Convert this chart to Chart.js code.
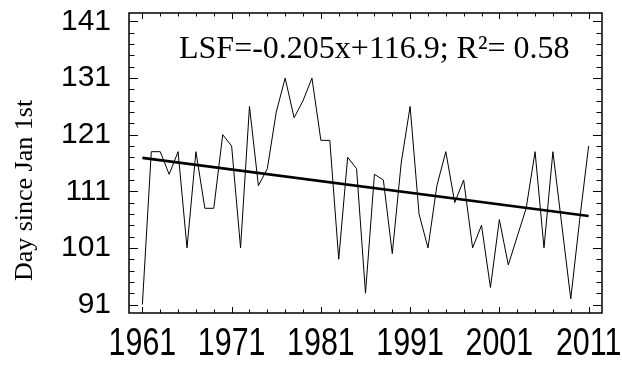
<!DOCTYPE html>
<html>
<head>
<meta charset="utf-8">
<script src="https://cdn.jsdelivr.net/npm/chart.js@4/dist/chart.umd.min.js"></script>
<style>
  html, body { margin: 0; padding: 0; background: #fff; }
  #wrap { width: 622px; height: 366px; }
</style>
</head>
<body>
<div id="wrap"><canvas id="c" width="622" height="366"></canvas></div>
<script>
// ---- data ----
const years = [1961,1962,1963,1964,1965,1966,1967,1968,1969,1970,
               1971,1972,1973,1974,1975,1976,1977,1978,1979,1980,
               1981,1982,1983,1984,1985,1986,1987,1988,1989,1990,
               1991,1992,1993,1994,1995,1996,1997,1998,1999,2000,
               2001,2002,2003,2004,2005,2006,2007,2008,2009,2010,2011];
const dayValues = [91,118,118,114,118,101,118,108,108,121,
                   119,101,126,112,115,125,131,124,127,131,
                   120,120,99,117,115,93,114,113,100,116,
                   126,107,101,112,118,109,113,101,105,94,
                   106,98,103,108,118,101,118,105,92,106,119];
const trendYears = [1961, 2011];
const trendValues = [116.9, 106.65];
const xLabelYears = [1961, 1971, 1981, 1991, 2001, 2011];
const yLabelValues = [91, 101, 111, 121, 131, 141];
const annotationText = 'LSF=-0.205x+116.9; R\u00B2= 0.58';
const yTitleText = 'Day since Jan 1st';

// ---- helpers ----
function stepTicks(from, to, step) {
  const out = [];
  for (let v = from; v <= to + 1e-9; v += step) out.push({ value: v });
  return out;
}

const framePlugin = {
  id: 'frame',
  afterDraw(chart) {
    const { ctx, chartArea: a, scales: { x, y } } = chart;
    ctx.save();
    ctx.strokeStyle = '#000';
    ctx.lineWidth = 1;
    ctx.beginPath();
    x.ticks.forEach(t => {
      const px = Math.round(x.getPixelForValue(t.value)) + 0.5;
      const len = xLabelYears.includes(t.value) ? 6 : 3.5;
      ctx.moveTo(px, a.bottom); ctx.lineTo(px, a.bottom - len);
      ctx.moveTo(px, a.top); ctx.lineTo(px, a.top + len);
    });
    y.ticks.forEach(t => {
      const py = Math.round(y.getPixelForValue(t.value)) + 0.5;
      const len = yLabelValues.includes(t.value) ? 9 : 5.5;
      ctx.moveTo(a.left, py); ctx.lineTo(a.left + len, py);
      ctx.moveTo(a.right, py); ctx.lineTo(a.right - len, py);
    });
    ctx.stroke();
    ctx.lineWidth = 1.5;
    ctx.strokeRect(a.left, a.top, a.right - a.left, a.bottom - a.top);

    ctx.fillStyle = '#000';
    // x tick labels (condensed sans, like the reference)
    ctx.font = '38px "Liberation Sans", Arial, sans-serif';
    ctx.textAlign = 'center';
    ctx.textBaseline = 'middle';
    xLabelYears.forEach(yr => {
      ctx.save();
      ctx.translate(x.getPixelForValue(yr), a.bottom + 32);
      ctx.scale(0.8, 1);
      ctx.fillText(String(yr), 0, 0);
      ctx.restore();
    });

    ctx.font = '32px "Liberation Serif", "Times New Roman", serif';
    ctx.textAlign = 'left';
    ctx.textBaseline = 'alphabetic';
    ctx.fillText(annotationText, a.left + 50, a.top + 45);

    ctx.translate(32, 190.5);
    ctx.rotate(-Math.PI / 2);
    ctx.font = '26px "Liberation Serif", "Times New Roman", serif';
    ctx.textAlign = 'center';
    ctx.fillText(yTitleText, 0, 0);
    ctx.restore();
  }
};

new Chart(document.getElementById('c'), {
  type: 'line',
  data: {
    datasets: [
      {
        data: years.map((yr, i) => ({ x: yr, y: dayValues[i] })),
        borderColor: '#000', borderWidth: 1, pointRadius: 0, tension: 0, fill: false
      },
      {
        data: trendYears.map((yr, i) => ({ x: yr, y: trendValues[i] })),
        borderColor: '#000', borderWidth: 2.6, pointRadius: 0, tension: 0, fill: false
      }
    ]
  },
  options: {
    responsive: false,
    animation: false,
    devicePixelRatio: 1,
    layout: { padding: { top: 13, right: 20, left: 0, bottom: 0 } },
    plugins: { legend: { display: false }, tooltip: { enabled: false } },
    scales: {
      x: {
        type: 'linear', min: 1959.5, max: 2012.5,
        afterBuildTicks: s => { s.ticks = stepTicks(1961, 2011, 2); },
        afterFit: s => { s.height = 53; s.paddingLeft = 0; s.paddingRight = 0; },
        grid: { display: false, drawTicks: false },
        border: { display: false },
        ticks: { display: false, autoSkip: false, maxRotation: 0, minRotation: 0 }
      },
      y: {
        type: 'linear', min: 89.5, max: 142.5,
        afterBuildTicks: s => { s.ticks = stepTicks(91, 141, 2); },
        afterFit: s => { s.width = 129; s.paddingTop = 0; s.paddingBottom = 0; },
        grid: { display: false, drawTicks: false },
        border: { display: false },
        ticks: {
          autoSkip: false, padding: 18, color: '#000',
          font: { family: '"Liberation Sans", Arial, sans-serif', size: 30 },
          callback: v => yLabelValues.includes(v) ? String(v) : ''
        }
      }
    }
  },
  plugins: [framePlugin]
});
</script>
</body>
</html>
